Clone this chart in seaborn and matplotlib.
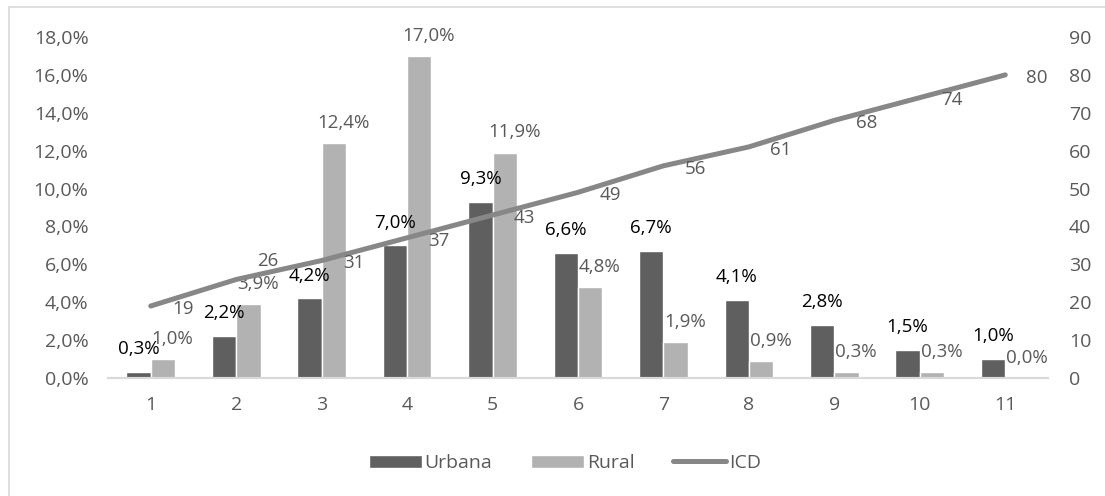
import numpy as np
import pandas as pd
import matplotlib.pyplot as plt
from matplotlib.lines import Line2D
import seaborn as sns

sns.set_theme(style="white")
plt.rcParams['font.family'] = ['Open Sans', 'DejaVu Sans']

categorias = ['1', '2', '3', '4', '5', '6', '7', '8', '9', '10', '11']
urbana = [0.3, 2.2, 4.2, 7.0, 9.3, 6.6, 6.7, 4.1, 2.8, 1.5, 1.0]
rural = [1.0, 3.9, 12.4, 17.0, 11.9, 4.8, 1.9, 0.9, 0.3, 0.3, 0.0]
icd = [19, 26, 31, 37, 43, 49, 56, 61, 68, 74, 80]

cor_urb = '#5f5f5f'
cor_rur = '#b2b2b2'
cor_icd = '#878787'
cor_txt = '#595959'


def pct(v):
    return f'{v:.1f}'.replace('.', ',') + '%'


df = pd.DataFrame({
    'cat': categorias * 2,
    'grupo': ['Urbana'] * len(urbana) + ['Rural'] * len(rural),
    'valor': urbana + rural,
})

fig = plt.figure(figsize=(11.05, 4.96), dpi=100)
fig.subplots_adjust(left=108 / 1105, right=1048 / 1105,
                    bottom=1 - 378 / 496, top=1 - 37 / 496)
ax = fig.add_subplot(111)

sns.barplot(data=df, x='cat', y='valor', hue='grupo', order=categorias,
            hue_order=['Urbana', 'Rural'], palette=[cor_urb, cor_rur],
            width=0.57, gap=0, saturation=1, ax=ax, legend=True)
bar_handles, bar_labels = ax.get_legend_handles_labels()
ax.get_legend().remove()

ax.set_ylim(0, 18)
ax.set_yticks(np.arange(0, 19, 2))
ax.set_yticklabels([pct(t) for t in np.arange(0, 19, 2)])
ax.set_xlim(-0.5, len(categorias) - 0.5)
ax.set_xlabel('')
ax.set_ylabel('')

# rotulos das barras
for b, v in zip(ax.containers[0], urbana):
    ax.annotate(pct(v), (b.get_x() + b.get_width() / 2, b.get_height()),
                xytext=(0, 10), textcoords='offset points',
                ha='center', va='bottom', fontsize=13.5, color='black')
for b, v in zip(ax.containers[1], rural):
    ax.annotate(pct(v), (b.get_x() + b.get_width() / 2, b.get_height()),
                xytext=(7, 8), textcoords='offset points',
                ha='center', va='bottom', fontsize=13.5, color=cor_txt)

ax2 = ax.twinx()
pos = np.arange(len(icd))
sns.lineplot(x=pos, y=icd, color=cor_icd, linewidth=3.6, ax=ax2,
             solid_capstyle='round')
ax2.set_ylim(0, 90)
ax2.set_yticks(np.arange(0, 91, 10))
ax2.set_xlim(-0.5, len(categorias) - 0.5)
for i, v in enumerate(icd):
    dy = 13 if i == 1 else -2
    ax2.annotate(str(v), (pos[i], v), xytext=(23, dy),
                 textcoords='offset points', ha='center', va='center',
                 fontsize=13.5, color=cor_txt)

for a in (ax, ax2):
    for s in ['top', 'left', 'right']:
        a.spines[s].set_visible(False)
    a.spines['bottom'].set_color('#d9d9d9')
    a.spines['bottom'].set_linewidth(1.5)
    a.tick_params(axis='both', length=0, labelsize=14, colors=cor_txt)
ax.tick_params(axis='y', pad=14)
ax.tick_params(axis='x', pad=13)
ax2.tick_params(axis='y', pad=15)

linha = Line2D([0], [0], color=cor_icd, linewidth=3.6, solid_capstyle='round')
fig.legend(bar_handles + [linha], bar_labels + ['ICD'], loc='center',
           bbox_to_anchor=(565 / 1105, 1 - 463 / 496), ncol=3, frameon=False,
           fontsize=14, labelcolor=cor_txt, handlelength=2.7,
           handleheight=0.65, handletextpad=0.15, columnspacing=2.0)

# moldura
fig.add_artist(Line2D([9 / 1105, 1], [1 - 7 / 496, 1 - 7 / 496],
                      transform=fig.transFigure, color='#d9d9d9', linewidth=1.2))
fig.add_artist(Line2D([9 / 1105, 9 / 1105], [0, 1 - 7 / 496],
                      transform=fig.transFigure, color='#d9d9d9', linewidth=1.2))

plt.savefig('out.png', dpi=100)
plt.close()
